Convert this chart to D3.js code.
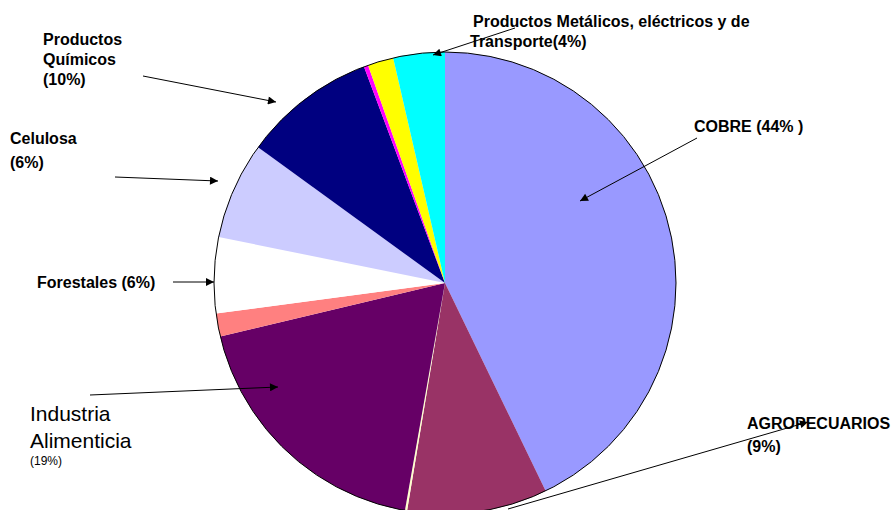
<!DOCTYPE html>
<html>
<head>
<meta charset="utf-8">
<script src="https://cdn.jsdelivr.net/npm/d3@7"></script>
<style>
  body { margin: 0; background: #fff; }
  svg { display: block; }
</style>
</head>
<body>
<svg id="pie"></svg>
<script>
// sectors, clockwise from 12 o'clock
var sectors = ["Cobre", "Agropecuarios", "Otros 1", "Industria Alimenticia", "Otros 2",
               "Forestales", "Celulosa", "Productos Químicos", "Otros 3", "Otros 4",
               "Productos Metálicos"]
var shares = [42.8, 9.8, 0.15, 18.5, 1.6, 5.3, 6.8, 9.3, 0.3, 1.8, 3.6]
var colors = ["#9999FF", "#993366", "#FFFFCC", "#660066", "#FF8080",
              "#FFFFFF", "#CCCCFF", "#000080", "#FF00FF", "#FFFF00", "#00FFFF"]

// label lines (text) for the annotated sectors
var labelLines = [
  ["Productos", "Químicos", "(10%)"],
  ["Celulosa", "(6%)"],
  ["Forestales (6%)"],
  ["COBRE (44% )"],
  ["AGROPECUARIOS", "(9%)"],
  ["Productos Metálicos, eléctricos y de", "Transporte(4%)"]
]

var dimensions = { width: 891, height: 510 }

var svg = d3.select("#pie")
  .attr("width", dimensions.width)
  .attr("height", dimensions.height)

// arrow head
svg.append("defs").append("marker")
  .attr("id", "head")
  .attr("viewBox", "0 0 10 10")
  .attr("refX", 10).attr("refY", 5)
  .attr("markerWidth", 10).attr("markerHeight", 8)
  .attr("markerUnits", "userSpaceOnUse")
  .attr("orient", "auto")
  .append("path").attr("d", "M0,0 L10,5 L0,10 z").attr("fill", "black")

var cx = 445, cy = 283, radius = 231

var color = d3.scaleOrdinal().domain(sectors).range(colors)

var pie = d3.pie().sort(null).value(function(d, i) { return shares[i] })
var arc = d3.arc().innerRadius(0).outerRadius(radius)

var g = svg.append("g").attr("transform", "translate(" + cx + "," + cy + ")")

g.selectAll("path")
  .data(pie(sectors))
  .join("path")
  .attr("d", arc)
  .attr("fill", function(d) { return color(d.data) })

g.append("circle")
  .attr("r", radius)
  .attr("fill", "none")
  .attr("stroke", "black")
  .attr("stroke-width", 1)

// label placement: x, first baseline, line spacing
var labelPos = [
  { x: 43, y: 45, dy: 20 },
  { x: 10, y: 144, dy: 24 },
  { x: 37, y: 288, dy: 0 },
  { x: 694, y: 132, dy: 0 },
  { x: 747, y: 429, dy: 23 },
  { x: 473, y: 27, dy: 20 }
]

labelLines.forEach(function(lines, i) {
  var t = svg.append("text")
    .attr("font-family", "Liberation Sans, Arial, sans-serif")
    .attr("font-weight", "bold")
    .attr("font-size", "16px")
  lines.forEach(function(s, j) {
    t.append("tspan")
      .attr("x", labelPos[i].x - (i == 5 && j == 1 ? 3 : 0))
      .attr("y", labelPos[i].y + j * labelPos[i].dy)
      .text(s)
  })
})

// Industria Alimenticia label (plain font)
var ind = svg.append("text").attr("font-family", "Liberation Sans, Arial, sans-serif")
ind.append("tspan").attr("x", 30).attr("y", 421).attr("font-size", "21px").text("Industria")
ind.append("tspan").attr("x", 30).attr("y", 448).attr("font-size", "21px").text("Alimenticia")
ind.append("tspan").attr("x", 30).attr("y", 465).attr("font-size", "12px").text("(19%)")

// arrows [x1, y1, x2, y2]
var arrows = [
  [143, 76, 276, 102],
  [115, 177, 218, 181],
  [173, 282, 214, 282],
  [90, 395, 278, 387],
  [697, 138, 580, 201],
  [508, 509, 808, 422],
  [515, 28, 433, 55]
]

svg.selectAll("line.arrow")
  .data(arrows)
  .join("line")
  .attr("class", "arrow")
  .attr("x1", function(d) { return d[0] })
  .attr("y1", function(d) { return d[1] })
  .attr("x2", function(d) { return d[2] })
  .attr("y2", function(d) { return d[3] })
  .attr("stroke", "black")
  .attr("stroke-width", 1)
  .attr("marker-end", "url(#head)")
</script>
</body>
</html>
